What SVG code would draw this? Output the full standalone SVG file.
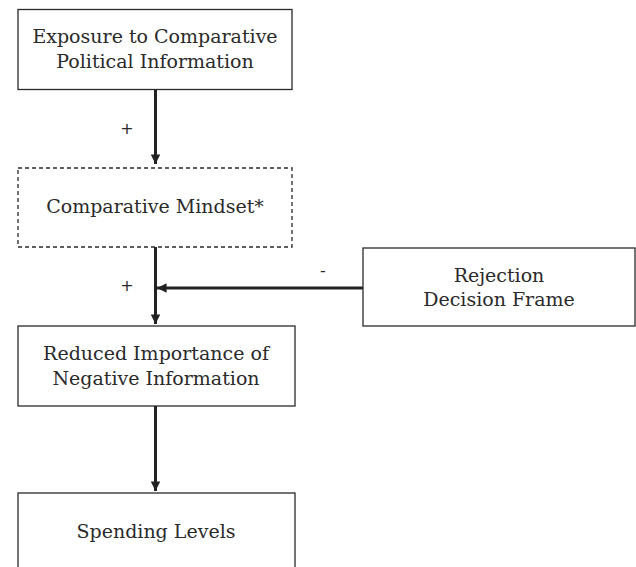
<svg xmlns="http://www.w3.org/2000/svg" width="636" height="567" viewBox="0 0 636 567">
<style>
.box{fill:#fff;stroke:#2a2a2a;stroke-width:1.3}
.dash{stroke-dasharray:4 3}
.t{font-family:"DejaVu Serif","Liberation Serif",serif;font-size:19px;fill:#2a2a2a;text-anchor:middle}
.s{font-family:"DejaVu Sans","Liberation Sans",sans-serif;font-size:16px;fill:#2a2a2a;text-anchor:middle}
.c{stroke:#222;stroke-width:3;fill:none}
</style>
<defs>
<marker id="ah" viewBox="0 0 10 10" refX="10" refY="5" markerWidth="3.2" markerHeight="3.2" markerUnits="strokeWidth" orient="auto">
<path d="M0,0 L10,5 L0,10 Z" fill="#222"/>
</marker>
</defs>
<rect width="636" height="567" fill="#fff"/>
<g id="connectors">
<line class="c" x1="155.5" y1="89" x2="155.5" y2="164" marker-end="url(#ah)"/>
<line class="c" x1="155.5" y1="247" x2="155.5" y2="324" marker-end="url(#ah)"/>
<line class="c" x1="363" y1="288" x2="157" y2="288" marker-end="url(#ah)"/>
<line class="c" x1="155.5" y1="406" x2="155.5" y2="491" marker-end="url(#ah)"/>
<text class="s" x="127" y="134">+</text>
<text class="s" x="127" y="291">+</text>
<text class="s" x="323" y="276">-</text>
</g>
<g id="exposure">
<rect class="box" x="18" y="9.5" width="274" height="80"/>
<text class="t" x="155" y="43">Exposure to Comparative</text>
<text class="t" x="155" y="68">Political Information</text>
</g>
<g id="mindset">
<rect class="box dash" x="18" y="168" width="274" height="79"/>
<text class="t" x="155" y="213">Comparative Mindset*</text>
</g>
<g id="rejection">
<rect class="box" x="363" y="248" width="272" height="78"/>
<text class="t" x="499" y="282">Rejection</text>
<text class="t" x="499" y="306">Decision Frame</text>
</g>
<g id="reduced">
<rect class="box" x="18" y="326" width="277" height="80"/>
<text class="t" x="156" y="360">Reduced Importance of</text>
<text class="t" x="156" y="385">Negative Information</text>
</g>
<g id="spending">
<rect class="box" x="18" y="493" width="277" height="90"/>
<text class="t" x="156" y="538">Spending Levels</text>
</g>
</svg>
